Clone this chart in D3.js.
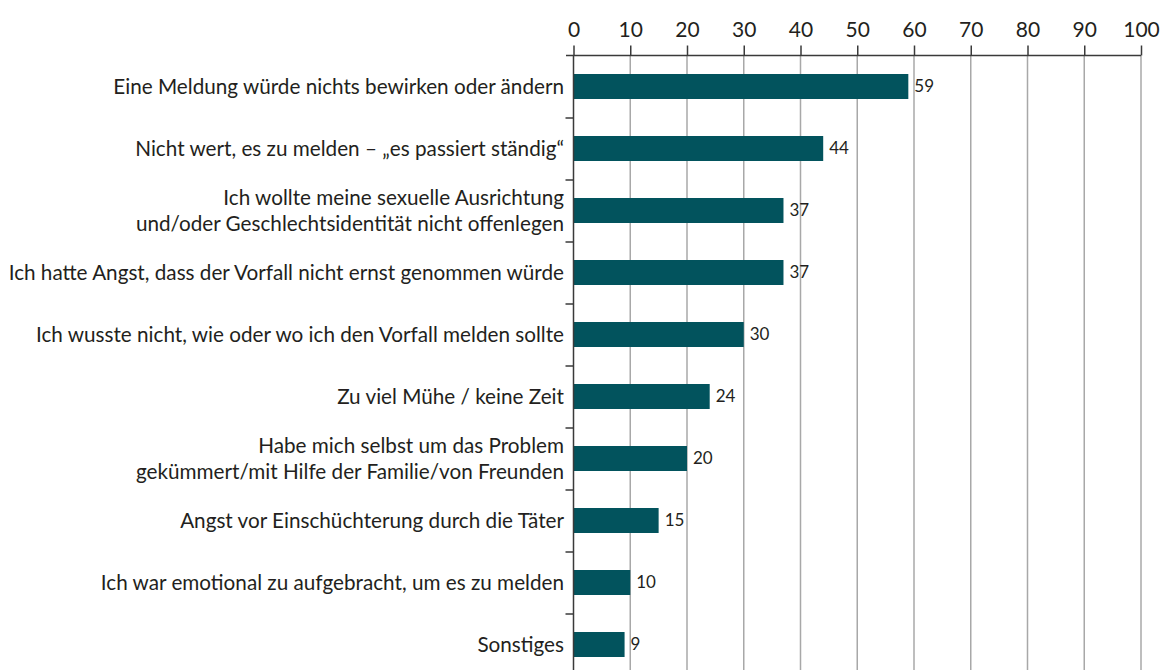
<!DOCTYPE html>
<html>
<head>
<meta charset="utf-8">
<script src="https://cdn.jsdelivr.net/npm/d3@7"></script>
<style>
  body { margin: 0; background: #fff; }
  text { font-family: Lato, "Noto Sans", sans-serif; fill: #231f20; }
</style>
</head>
<body>
<div id="chart"></div>
<script>
// categories (top to bottom), lines split where the label wraps
var categories = [
  ["Eine Meldung würde nichts bewirken oder ändern"],
  ["Nicht wert, es zu melden – „es passiert ständig“"],
  ["Ich wollte meine sexuelle Ausrichtung", "und/oder Geschlechtsidentität nicht offenlegen"],
  ["Ich hatte Angst, dass der Vorfall nicht ernst genommen würde"],
  ["Ich wusste nicht, wie oder wo ich den Vorfall melden sollte"],
  ["Zu viel Mühe / keine Zeit"],
  ["Habe mich selbst um das Problem", "gekümmert/mit Hilfe der Familie/von Freunden"],
  ["Angst vor Einschüchterung durch die Täter"],
  ["Ich war emotional zu aufgebracht, um es zu melden"],
  ["Sonstiges"]
];
var values = [59, 44, 37, 37, 30, 24, 20, 15, 10, 9];
var xTicks = [0, 10, 20, 30, 40, 50, 60, 70, 80, 90, 100];

var W = 1162, H = 670;
var axisY = 55.5;

var svg = d3.select("#chart").append("svg")
    .attr("width", W)
    .attr("height", H);

var keys = categories.map(function(d, i) { return i; });

var x = d3.scaleLinear()
    .domain([0, 100])
    .range([573.5, 1141]);

var y = d3.scaleBand()
    .domain(keys)
    .range([axisY, axisY + 620])
    .paddingInner(0.597)
    .paddingOuter(0.2985);

// vertical grid
svg.append("g")
    .selectAll("line")
    .data(xTicks.slice(1))
    .enter()
    .append("line")
    .attr("x1", function(d) { return x(d); })
    .attr("x2", function(d) { return x(d); })
    .attr("y1", axisY)
    .attr("y2", H)
    .attr("stroke", "#a8a8a8")
    .attr("stroke-width", 1.5);

// bars
svg.append("g")
    .selectAll("rect")
    .data(values)
    .enter()
    .append("rect")
    .attr("x", x(0))
    .attr("y", function(d, i) { return y(i); })
    .attr("width", function(d) { return x(d) - x(0); })
    .attr("height", y.bandwidth())
    .attr("fill", "#02535d");

// value labels
svg.append("g")
    .selectAll("text")
    .data(values)
    .enter()
    .append("text")
    .attr("x", function(d) { return x(d) + 6; })
    .attr("y", function(d, i) { return y(i) + y.bandwidth() / 2; })
    .attr("dy", "0.35em")
    .style("font-size", "17px")
    .text(function(d) { return d; });

// top axis
var xAxis = d3.axisTop(x)
    .tickValues(xTicks)
    .tickSize(10)
    .tickSizeOuter(0)
    .tickPadding(9);

var gx = svg.append("g")
    .attr("transform", "translate(0," + axisY + ")")
    .call(xAxis);
gx.select(".domain").remove();
gx.selectAll("line").attr("stroke", "#3a3a3a").attr("stroke-width", 1.5);
gx.selectAll("text")
    .style("font-size", "21px")
    .style("font-family", "Lato, sans-serif")
    .attr("fill", "#231f20");
gx.append("line")
    .attr("x1", 566)
    .attr("x2", x(100))
    .attr("stroke", "#3a3a3a")
    .attr("stroke-width", 1.5);

// left axis with ticks between bands
var yb = d3.scaleLinear().domain([0, 10]).range([axisY, axisY + 620]);
var gy = svg.append("g")
    .attr("transform", "translate(" + x(0) + ",0)")
    .call(d3.axisLeft(yb).tickValues(d3.range(1, 10)).tickSize(8).tickFormat(""));
gy.select(".domain").remove();
gy.selectAll("line").attr("stroke", "#3a3a3a").attr("stroke-width", 1.5);
gy.append("line")
    .attr("y1", axisY)
    .attr("y2", H)
    .attr("stroke", "#3a3a3a")
    .attr("stroke-width", 1.5);

// category labels
var lineH = 26;
svg.append("g")
    .selectAll("text")
    .data(categories)
    .enter()
    .append("text")
    .attr("text-anchor", "end")
    .style("font-size", "20.7px")
    .attr("y", function(d, i) { return y(i) + y.bandwidth() / 2; })
    .each(function(d) {
      var t = d3.select(this);
      var cy = +t.attr("y");
      d.forEach(function(line, j) {
        t.append("tspan")
          .attr("x", 564)
          .attr("y", cy + (j - (d.length - 1) / 2) * lineH)
          .attr("dy", "0.35em")
          .text(line);
      });
    });
</script>
</body>
</html>
